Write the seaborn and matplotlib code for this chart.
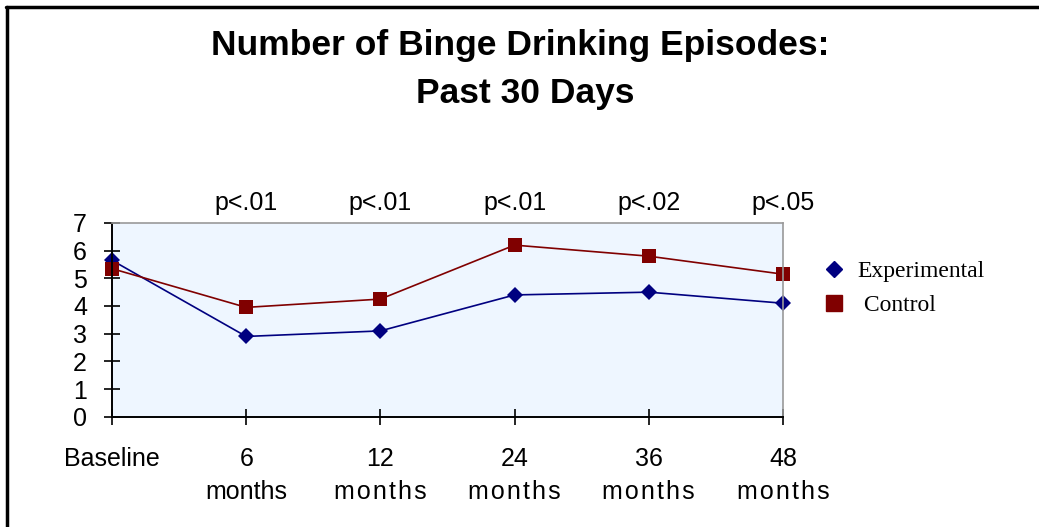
import matplotlib.pyplot as plt
import matplotlib.lines as mlines
import pandas as pd
import seaborn as sns

# Values
timepoints = ["Baseline", "6\nmonths", "12\nm\u200ao\u200an\u200at\u200ah\u200as",
              "24\nm\u200ao\u200an\u200at\u200ah\u200as", "36\nm\u200ao\u200an\u200at\u200ah\u200as",
              "48\nm\u200ao\u200an\u200at\u200ah\u200as"]
experimental = [5.65, 2.9, 3.1, 4.4, 4.5, 4.1]
control = [5.35, 3.95, 4.25, 6.2, 5.8, 5.15]
p_values = ["", "p<.01", "p<.01", "p<.01", "p<.02", "p<.05"]

pos = list(range(len(timepoints)))
df = pd.DataFrame({
    "pos": pos * 2,
    "value": experimental + control,
    "group": ["Experimental"] * len(pos) + ["Control"] * len(pos),
})

sns.set_style("white")
plt.rcParams["font.family"] = ["Liberation Sans", "DejaVu Sans"]
plt.rcParams["text.color"] = "black"
plt.rcParams["xtick.color"] = "black"
plt.rcParams["ytick.color"] = "black"

fig = plt.figure(figsize=(10.39, 5.27), dpi=100)
ax = fig.add_axes([0.1078, 0.2093, 0.6458, 0.3676])
ax.set_facecolor("#EEF6FF")

colors = {"Experimental": "#000080", "Control": "#800000"}
sns.lineplot(data=df, x="pos", y="value", hue="group", style="group",
             markers={"Experimental": "D", "Control": "s"}, dashes=False,
             palette=colors, linewidth=1.2, markersize=9, markeredgewidth=0,
             legend=False, ax=ax)
for ln in ax.lines:
    ln.set_clip_on(False)
ax.lines[1].set_markersize(10)
ax.lines[0].set_markersize(8)

ax.set_xlim(0, 5)
ax.set_ylim(0, 7)
ax.set_xticks(pos)
ax.set_xticklabels(timepoints, fontsize=18, linespacing=1.45)
ax.set_yticks(range(8))
ax.set_yticklabels([str(i) for i in range(8)], fontsize=18)
ax.tick_params(axis="x", bottom=True, direction="inout", length=12, width=1.2, pad=16, colors="black")
ax.tick_params(axis="y", left=True, direction="inout", length=12, width=1.2, pad=12, colors="black")
ax.set_xlabel("")
ax.set_ylabel("")

for side in ["left", "bottom"]:
    ax.spines[side].set_color("black")
    ax.spines[side].set_linewidth(1.4)
for side in ["top", "right"]:
    ax.spines[side].set_color("#999999")
    ax.spines[side].set_linewidth(1.2)

for x, p in zip(pos, p_values):
    if p:
        ax.text(x, 7.3, p, ha="center", va="bottom", fontsize=18)

fig.text(0.501, 0.9146, "Number of Binge Drinking Episodes:",
         ha="center", va="center", fontsize=25.5, fontweight="bold")
fig.text(0.506, 0.8235, "Past 30 Days",
         ha="center", va="center", fontsize=25.5, fontweight="bold")

handles = [
    mlines.Line2D([], [], color=colors["Experimental"], marker="D", linestyle="none", markersize=8),
    mlines.Line2D([], [], color=colors["Control"], marker="s", linestyle="none", markersize=11),
]
fig.legend(handles, ["Experimental", " Control"], loc="center left",
           bbox_to_anchor=(0.771, 0.453), frameon=False, handlelength=1.0,
           handletextpad=0.5, labelspacing=0.55,
           prop={"family": "Liberation Serif", "size": 17})

# outer frame (left and top edges)
fig.add_artist(mlines.Line2D([0.0067, 0.0067], [0.0, 0.987], color="black", linewidth=2.5))
fig.add_artist(mlines.Line2D([0.0055, 1.0], [0.987, 0.987], color="black", linewidth=2.5))

fig.savefig("out.png", dpi=100)
